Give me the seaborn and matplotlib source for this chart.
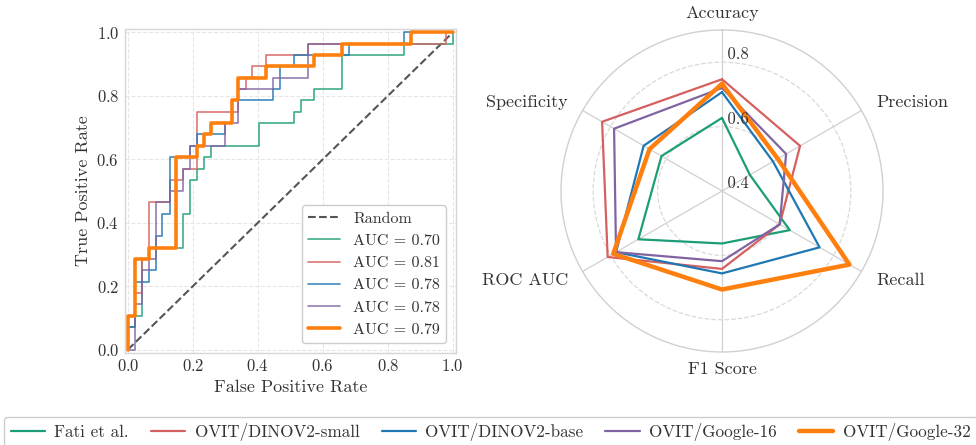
import matplotlib
matplotlib.use("Agg")
import matplotlib.pyplot as plt
import numpy as np
import pandas as pd
import seaborn as sns

MODELS = ["Fati et al.", "OVIT/DINOV2-small", "OVIT/DINOV2-base", "OVIT/Google-16", "OVIT/Google-32"]
COLORS = ["#1b9e77", "#d65f5f", "#1f77b4", "#8064a2", "#ff7f0e"]
AUC_LABELS = ["AUC = 0.70", "AUC = 0.81", "AUC = 0.78", "AUC = 0.78", "AUC = 0.79"]

# ROC corner points
FATI_FPR = [0, 0, .021, .043, .064, .170, .191, .213, .234, .255, .404, .511, .532, .574, .660, .851, 1.0]
FATI_TPR = [0, .071, .107, .286, .321, .429, .536, .571, .607, .643, .714, .750, .786, .821, .929, .964, 1.0]
DSMALL_FPR = [0, 0, .021, .043, .064, .128, .170, .213, .340, .362, .383, .426, .553, .979, 1.0]
DSMALL_TPR = [0, .107, .179, .286, .464, .536, .571, .750, .821, .857, .893, .929, .964, 1.0, 1.0]
DBASE_FPR = [0, 0, .021, .064, .085, .106, .128, .191, .213, .298, .319, .447, .468, .511, .681, .851, 1.0]
DBASE_TPR = [0, .071, .214, .250, .357, .429, .607, .643, .679, .714, .786, .821, .893, .929, .964, 1.0, 1.0]
G16_FPR = [0, .021, .043, .064, .085, .128, .170, .191, .298, .340, .447, .553, .872, 1.0]
G16_TPR = [0, .143, .250, .286, .464, .500, .571, .643, .714, .821, .857, .964, 1.0, 1.0]
G32_FPR = [0, 0, .021, .064, .149, .213, .234, .255, .319, .340, .426, .574, .660, .872, 1.0]
G32_TPR = [0, .107, .286, .321, .607, .643, .679, .714, .786, .857, .893, .929, .964, 1.0, 1.0]

# radar metrics
METRICS = ["Accuracy", "Precision", "Recall", "F1 Score", "ROC AUC", "Specificity"]
FATI_SCORES = [0.627, 0.500, 0.643, 0.563, 0.70, 0.617]
DSMALL_SCORES = [0.747, 0.680, 0.607, 0.642, 0.81, 0.830]
DBASE_SCORES = [0.707, 0.583, 0.750, 0.656, 0.78, 0.681]
G16_SCORES = [0.720, 0.630, 0.607, 0.618, 0.78, 0.787]
G32_SCORES = [0.733, 0.600, 0.857, 0.706, 0.79, 0.660]
RADIAL_TICKS = [0.4, 0.6, 0.8]

roc_data = [(FATI_FPR, FATI_TPR), (DSMALL_FPR, DSMALL_TPR), (DBASE_FPR, DBASE_TPR),
            (G16_FPR, G16_TPR), (G32_FPR, G32_TPR)]
scores = [FATI_SCORES, DSMALL_SCORES, DBASE_SCORES, G16_SCORES, G32_SCORES]

sns.set_theme(style="whitegrid")
plt.rcParams["font.family"] = ["cmr10", "DejaVu Sans"]
plt.rcParams["mathtext.fontset"] = "cm"
plt.rcParams["axes.formatter.use_mathtext"] = True
plt.rcParams["text.color"] = "#333333"
plt.rcParams["axes.labelcolor"] = "#333333"
plt.rcParams["xtick.color"] = "#333333"
plt.rcParams["ytick.color"] = "#333333"

fig = plt.figure(figsize=(9.76, 4.45), dpi=100)
ax = fig.add_axes([0.1278, 0.2074, 0.3394, 0.7267])
rad = fig.add_axes([0.5748, 0.209, 0.3299, 0.7236], projection="polar")

# ---- ROC panel
sns.lineplot(x=[0, 1], y=[0, 1], ax=ax, color="#555555", linestyle="--", lw=1.5, label="Random")
for (fpr, tpr), color, lab in zip(roc_data, COLORS, AUC_LABELS):
    thick = color == COLORS[-1]
    sns.lineplot(x=fpr, y=tpr, ax=ax, sort=False, estimator=None, drawstyle="steps-post",
                 color=color, lw=2.6 if thick else 1.2, alpha=1.0 if thick else 0.85, label=lab)
ax.set_xlim(-0.01, 1.01)
ax.set_ylim(-0.01, 1.01)
ax.set_xticks(np.arange(0, 1.01, 0.2))
ax.set_yticks(np.arange(0, 1.01, 0.2))
ax.tick_params(labelsize=12, length=0, pad=4)
ax.set_xlabel("False Positive Rate", fontsize=13, labelpad=4)
ax.set_ylabel("True Positive Rate", fontsize=13, labelpad=4)
ax.grid(True, linestyle="--", color="#e6e6e6", lw=0.8)
for sp in ax.spines.values():
    sp.set_color("#d6d6d6")
    sp.set_linewidth(1.0)
ax.legend(loc="lower right", fontsize=11.5, frameon=True, edgecolor="#cccccc", framealpha=1.0,
          borderaxespad=0.6, handlelength=2.0)

# ---- radar panel
angles = np.linspace(0, 2 * np.pi, len(METRICS), endpoint=False)
closed = np.append(angles, angles[0])
rad.set_theta_offset(np.pi / 2)
rad.set_theta_direction(-1)
for vals, color, name in zip(scores, COLORS, MODELS):
    thick = color == COLORS[-1]
    df = pd.DataFrame({"theta": closed, "r": vals + vals[:1]})
    sns.lineplot(data=df, x="theta", y="r", ax=rad, sort=False, estimator=None,
                 color=color, lw=3.2 if thick else 1.6, label=name)
rad.set_ylim(0.4, 0.9)
rad.set_yticks(RADIAL_TICKS)
rad.set_yticklabels([])
rad.set_xticks(angles)
rad.set_xticklabels([])
rad.set_xlabel("")
rad.set_ylabel("")
rad.set_facecolor("white")
rad.yaxis.grid(True, linestyle="--", color="#d9d9d9", lw=0.9)
rad.xaxis.grid(True, linestyle="-", color="#d0d0d0", lw=0.9)
rad.spines["polar"].set_color("#d0d0d0")
rad.spines["polar"].set_linewidth(1.0)
for t in RADIAL_TICKS:
    rad.text(0, t, f" {t:.1f}", ha="left", va="bottom", fontsize=12, color="#333333")
for ang, name in zip(angles, METRICS):
    s = np.sin(ang)
    ha = "center" if abs(s) < 0.1 else ("left" if s > 0 else "right")
    rad.text(ang, 0.953, name, ha=ha, va="center", fontsize=13, color="#333333")
handles, labels = rad.get_legend_handles_labels()
rad.get_legend().remove()

fig.legend(handles, labels, loc="upper left", bbox_to_anchor=(0.004, 0.064), ncol=5,
           fontsize=12.3, frameon=True, edgecolor="#cccccc", framealpha=1.0,
           handlelength=2.0, handletextpad=0.55, columnspacing=1.3, borderaxespad=0)

fig.savefig("out.png", dpi=100)
